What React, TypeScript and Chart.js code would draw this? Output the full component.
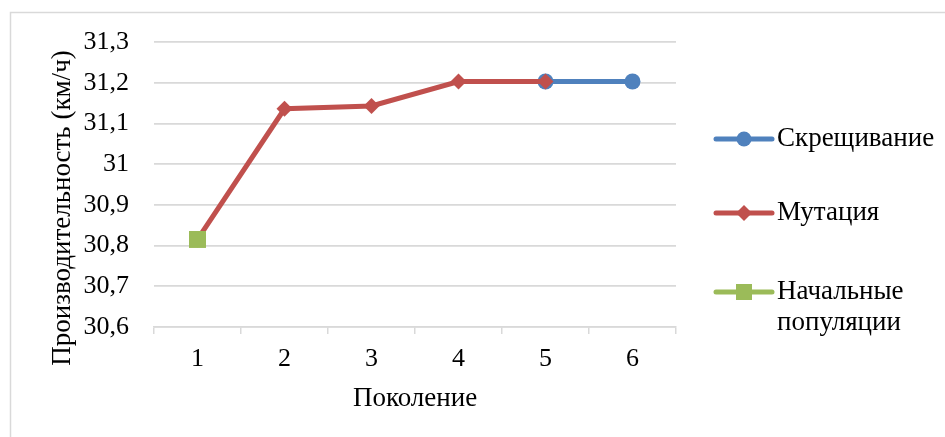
import React, { useEffect, useRef } from "react";
import { Chart, registerables } from "chart.js";

Chart.register(...registerables);

const generations = ["1", "2", "3", "4", "5", "6"];
const crossoverValues = [null, null, null, null, 31.203, 31.203];
const mutationValues = [30.815, 31.136, 31.143, 31.203, 31.203, null];
const initialValues = [30.815, null, null, null, null, null];

const seriesNames = ["Скрещивание", "Мутация", "Начальные популяции"];
const legendLines = [["Скрещивание"], ["Мутация"], ["Начальные", "популяции"]];
const yTitle = "Производительность (км/ч)";
const xTitle = "Поколение";

const BLUE = "#4f81bd";
const RED = "#c0504d";
const GREEN = "#9bbb59";
const GRID = "#d9d9d9";
const FONT = '"Liberation Serif", "Times New Roman", serif';
const TICK_SIZE = 26;
const TEXT_SIZE = 27;

const frameAndLegend = {
  id: "frameAndLegend",
  beforeDraw(chart: any) {
    const ctx = chart.ctx;
    ctx.save();
    ctx.strokeStyle = GRID;
    ctx.lineWidth = 1.5;
    ctx.beginPath();
    ctx.moveTo(10.5, chart.height + 2);
    ctx.lineTo(10.5, 12.5);
    ctx.lineTo(chart.width + 2, 12.5);
    ctx.stroke();
    ctx.restore();
  },
  afterDraw(chart: any) {
    const ctx = chart.ctx;
    const area = chart.chartArea;
    ctx.save();
    // vertical axis title
    ctx.fillStyle = "#000";
    ctx.font = `${TEXT_SIZE}px ${FONT}`;
    ctx.textAlign = "center";
    ctx.textBaseline = "middle";
    ctx.translate(63, 208);
    ctx.rotate(-Math.PI / 2);
    ctx.fillText(yTitle, 0, 0);
    ctx.restore();

    // legend entries: line segment with the series marker in the middle
    const items = [
      { color: BLUE, style: "circle", lines: legendLines[0], y: 139 },
      { color: RED, style: "rectRot", lines: legendLines[1], y: 213 },
      { color: GREEN, style: "rect", lines: legendLines[2], y: 292 },
    ];
    const x0 = area.right + 40;
    const x1 = x0 + 56;
    items.forEach((it) => {
      ctx.save();
      ctx.strokeStyle = it.color;
      ctx.lineWidth = 5;
      ctx.lineCap = "round";
      ctx.beginPath();
      ctx.moveTo(x0, it.y);
      ctx.lineTo(x1, it.y);
      ctx.stroke();
      ctx.fillStyle = it.color;
      const cx = (x0 + x1) / 2;
      ctx.beginPath();
      if (it.style === "circle") {
        ctx.arc(cx, it.y, 7.5, 0, Math.PI * 2);
      } else if (it.style === "rectRot") {
        ctx.moveTo(cx - 8, it.y);
        ctx.lineTo(cx, it.y - 8);
        ctx.lineTo(cx + 8, it.y);
        ctx.lineTo(cx, it.y + 8);
        ctx.closePath();
      } else {
        ctx.rect(cx - 8, it.y - 8, 16, 16);
      }
      ctx.fill();
      ctx.fillStyle = "#000";
      ctx.font = `${TEXT_SIZE}px ${FONT}`;
      ctx.textAlign = "left";
      ctx.textBaseline = "middle";
      it.lines.forEach((ln, i) => {
        ctx.fillText(ln, x1 + 5, it.y + i * 31);
      });
      ctx.restore();
    });
  },
};

export default function App() {
  const canvasRef = useRef<HTMLCanvasElement | null>(null);

  useEffect(() => {
    const canvas = canvasRef.current;
    if (!canvas) return;
    const chart = new Chart(canvas, {
      type: "line",
      data: {
        labels: generations,
        datasets: [
          {
            label: seriesNames[0],
            data: crossoverValues,
            borderColor: BLUE,
            backgroundColor: BLUE,
            borderWidth: 5,
            pointStyle: "circle",
            pointRadius: 8,
            pointBorderWidth: 0,
            order: 3,
          },
          {
            label: seriesNames[1],
            data: mutationValues,
            borderColor: RED,
            backgroundColor: RED,
            borderWidth: 5,
            pointStyle: "rectRot",
            pointRadius: 8,
            pointBorderWidth: 0,
            order: 2,
          },
          {
            label: seriesNames[2],
            data: initialValues,
            borderColor: GREEN,
            backgroundColor: GREEN,
            borderWidth: 5,
            pointStyle: "rect",
            pointRadius: 12,
            pointBorderWidth: 0,
            order: 1,
          },
        ],
      },
      options: {
        animation: false,
        responsive: false,
        maintainAspectRatio: false,
        layout: { padding: { left: 10, right: 269, top: 42, bottom: 0 } },
        plugins: {
          legend: { display: false },
          tooltip: { enabled: false },
        },
        scales: {
          x: {
            type: "category",
            offset: true,
            afterFit: (scale: any) => {
              scale.height = 110;
            },
            grid: {
              offset: true,
              drawOnChartArea: false,
              drawTicks: true,
              tickLength: 7,
              color: GRID,
              lineWidth: 1.5,
            },
            border: { display: true, color: GRID, width: 1.5 },
            ticks: {
              color: "#000",
              font: { family: FONT, size: TICK_SIZE },
              padding: 10,
              maxRotation: 0,
            },
            title: {
              display: true,
              text: xTitle,
              color: "#000",
              font: { family: FONT, size: TEXT_SIZE },
              padding: { top: 0, bottom: 22 },
            },
          },
          y: {
            min: 30.6,
            max: 31.3,
            afterFit: (scale: any) => {
              scale.width = 144;
            },
            grid: {
              color: GRID,
              lineWidth: 1.8,
              drawTicks: false,
            },
            border: { display: false },
            ticks: {
              stepSize: 0.1,
              color: "#000",
              padding: 25,
              font: { family: FONT, size: TICK_SIZE },
              callback: (v: any) =>
                String(Number(Number(v).toFixed(1))).replace(".", ","),
            },
          },
        },
      },
      plugins: [frameAndLegend],
    });
    let alive = true;
    if ((document as any).fonts) {
      (document as any).fonts
        .load(`${TEXT_SIZE}px "Liberation Serif"`)
        .then(() => {
          if (alive) chart.update();
        })
        .catch(() => {});
    }
    return () => {
      alive = false;
      chart.destroy();
    };
  }, []);

  return (
    <div
      style={{
        position: "fixed",
        left: 0,
        top: 0,
        width: 945,
        height: 437,
        background: "#fff",
      }}
    >
      <canvas
        ref={canvasRef}
        width={945}
        height={437}
        style={{ width: 945, height: 437, display: "block" }}
      />
    </div>
  );
}
